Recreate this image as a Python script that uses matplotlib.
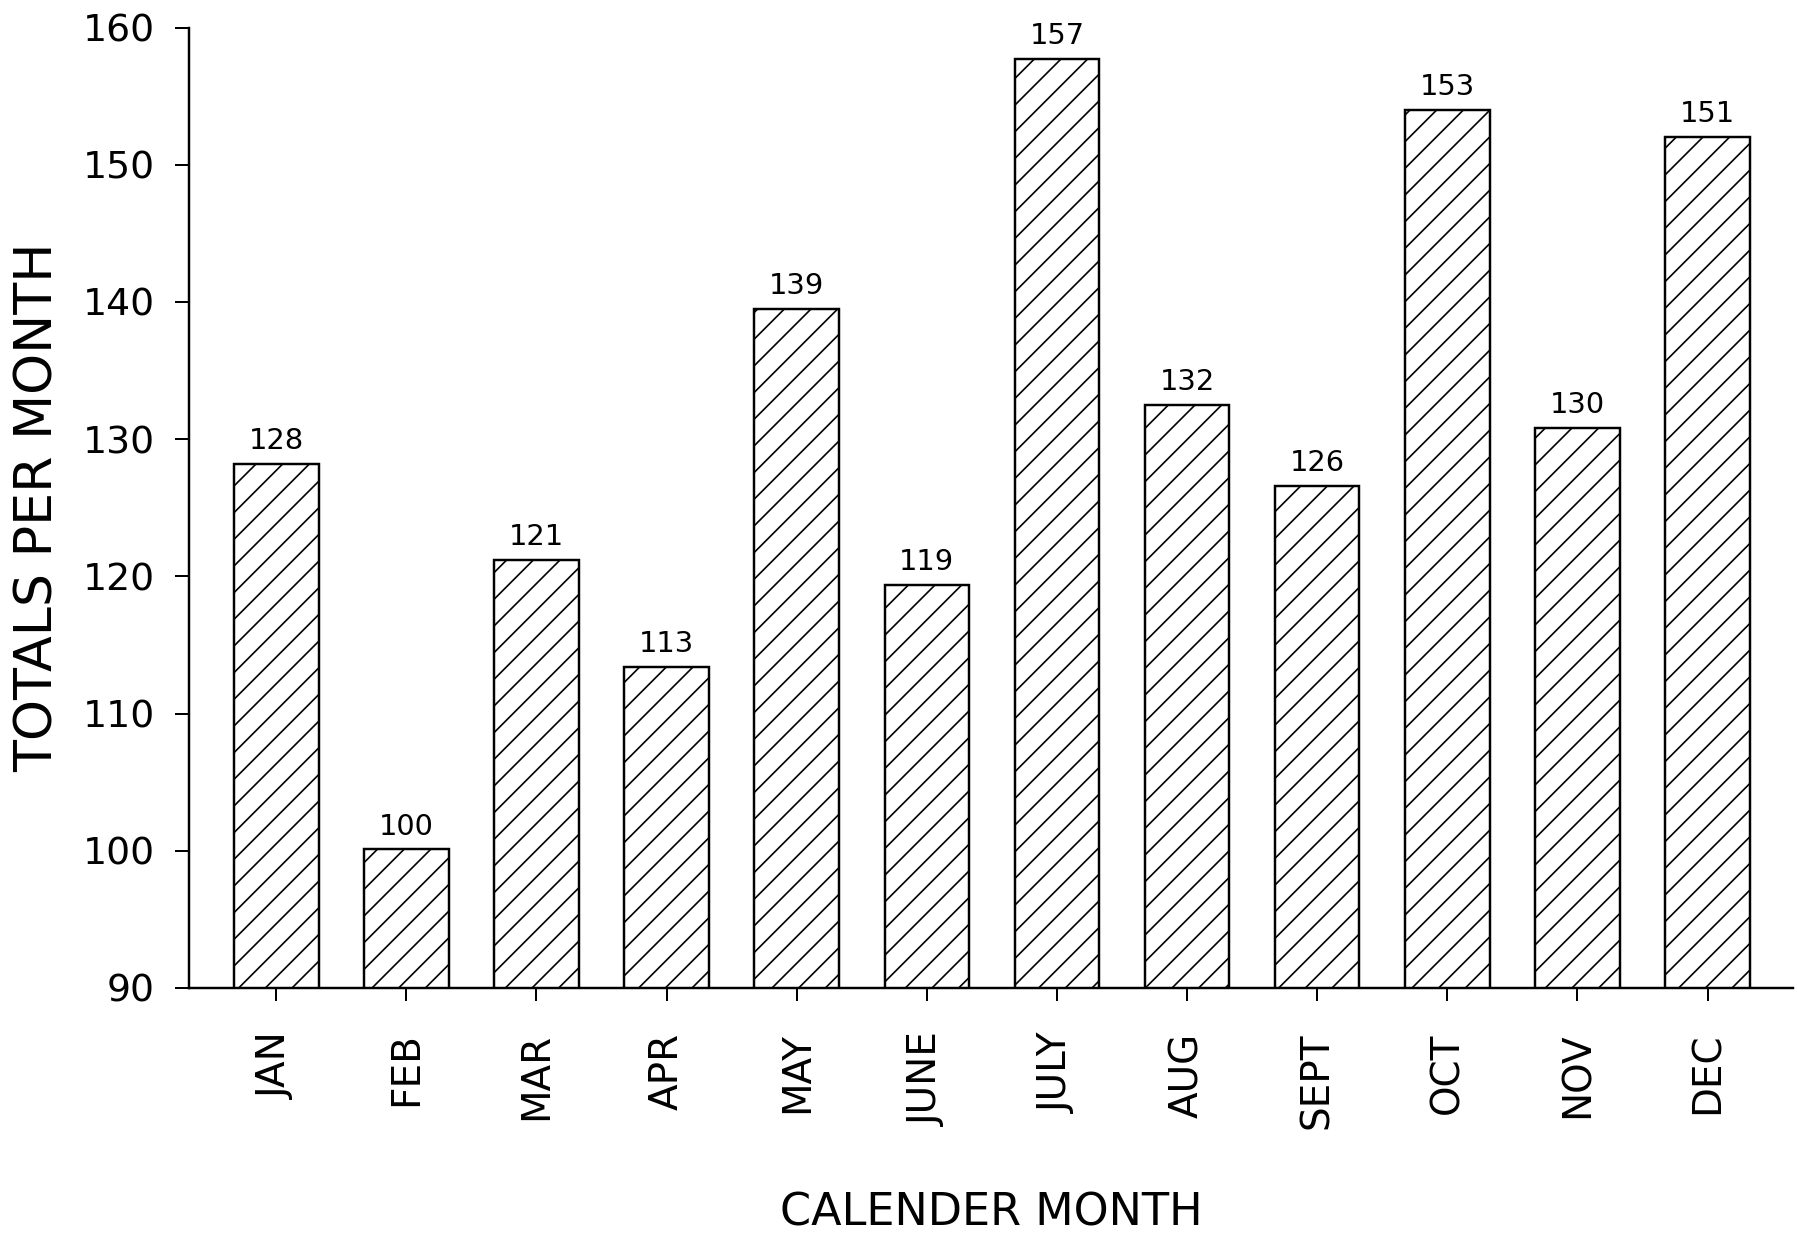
import matplotlib
matplotlib.use("Agg")
import matplotlib.pyplot as plt

# Month categories and the totals
months = ["JAN", "FEB", "MAR", "APR", "MAY", "JUNE", "JULY", "AUG", "SEPT", "OCT", "NOV", "DEC"]
barHeights = [128.2, 100.1, 121.2, 113.4, 139.5, 119.4, 157.7, 132.5, 126.6, 154.0, 130.8, 152.0]
barLabels = ["128", "100", "121", "113", "139", "119", "157", "132", "126", "153", "130", "151"]
yTicks = [90, 100, 110, 120, 130, 140, 150, 160]

# Hatch settings
plt.rcParams["hatch.linewidth"] = 0.75
plt.rcParams["hatch.color"] = "black"
plt.rcParams["font.family"] = "DejaVu Sans"

fig = plt.figure(figsize=(1797 / 160, 1239 / 160), dpi=160)
ax = fig.add_axes([0.1052, 0.2026, 0.8928, 0.7752])

# Draw the bars
positions = list(range(len(months)))
bars = ax.bar(positions, barHeights, width=0.65, bottom=0, color="white",
              edgecolor="black", linewidth=1.1, hatch="//")

# Put the value above each bar
for bar, label in zip(bars, barLabels):
    ax.annotate(label, (bar.get_x() + bar.get_width() / 2, bar.get_height()),
                xytext=(0, 4), textcoords="offset points",
                ha="center", va="bottom", fontsize=13)

# Axis limits and ticks
ax.set_ylim(90, 160)
ax.set_xlim(-0.67, 11.66)
ax.set_yticks(yTicks)
ax.set_xticks(positions)
ax.set_xticklabels(months, rotation=90)
ax.tick_params(axis="y", labelsize=17, length=6.5, width=0.9, pad=9)
ax.tick_params(axis="x", labelsize=17.5, length=6, width=0.9, pad=14)

# Only the left and bottom lines
ax.spines["top"].set_visible(False)
ax.spines["right"].set_visible(False)
ax.spines["left"].set_linewidth(1.1)
ax.spines["bottom"].set_linewidth(1.1)

# Set the labels
ax.set_xlabel("CALENDER MONTH", fontsize=20)
ax.set_ylabel("TOTALS PER MONTH", fontsize=23.5)
ax.xaxis.set_label_coords(0.5, -0.212)
ax.yaxis.set_label_coords(-0.078, 0.5)

# Save the plot
fig.savefig("out.png", dpi=160, facecolor="white")
